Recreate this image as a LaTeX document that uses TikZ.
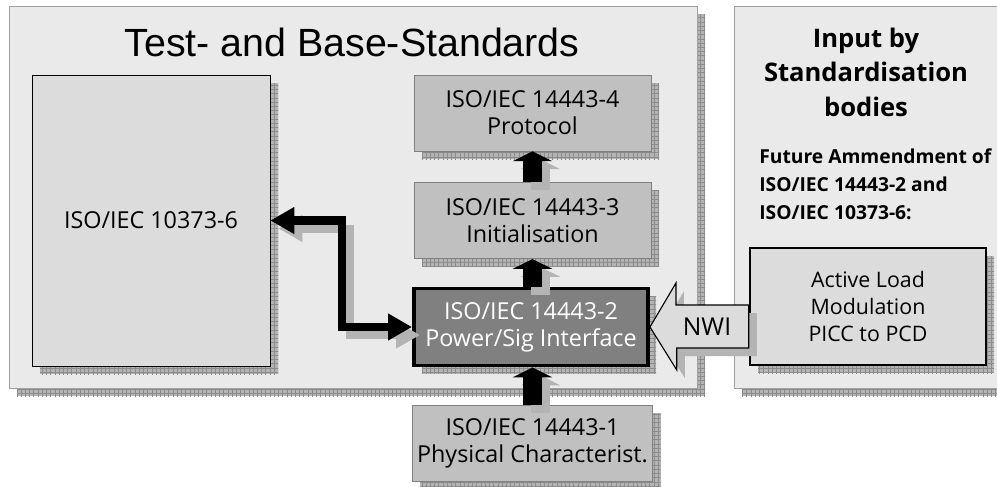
\documentclass[tikz,border=0pt]{standalone}
\usepackage{fontspec}
\setmainfont{Open Sans}
\newfontfamily\titlefont{Liberation Sans}
\usetikzlibrary{positioning,shadows,arrows.meta,patterns}
\definecolor{panelgray}{HTML}{EAEAEA}
\definecolor{edgegray}{HTML}{A0A0A0}
\definecolor{boxgray}{HTML}{C0C0C0}
\definecolor{lightbox}{HTML}{DCDCDC}
\definecolor{darkbox}{HTML}{808080}
\definecolor{shadowgray}{HTML}{B4B4B4}
\definecolor{gridgray}{HTML}{8C8C8C}
\newcommand{\pu}{0.025cm}
\tikzset{gridshadow/.style={general shadow={shadow xshift=5.7pt,shadow yshift=-5.7pt,
        fill=shadowgray,draw=none,postaction={pattern=grid,pattern color=gridgray}}},
    panel/.style={draw=edgegray,fill=panelgray,line width=0.7pt,gridshadow},
    stdbox/.style={draw=darkbox,fill=boxgray,line width=0.5pt,gridshadow,align=center,
        font=\fontsize{16.6}{19}\selectfont,minimum width=237*\pu,minimum height=76*\pu},
    keybox/.style={stdbox,draw=black,fill=darkbox,text=white,line width=2.8pt},
    inputbox/.style={stdbox,draw=black,fill=lightbox,line width=1.8pt,font=\fontsize{15.2}{19.5}\selectfont},
    thinshadow/.style={preaction={draw=shadowgray,line width=#1,transform canvas={shift={(5.7pt,-5.7pt)}}}},
    uparrow/.style={line width=14pt,-{Triangle[width=28pt,length=7pt]},thinshadow=14pt},
    linkarrow/.style={line width=5.7pt,{Triangle[width=18pt,length=17pt]}-{Triangle[width=18pt,length=17pt]},thinshadow=5.7pt},
    nwiarrow/.style={draw=black,fill=lightbox,line width=0.8pt,line join=miter,
        preaction={fill=shadowgray,transform canvas={shift={(5.7pt,-5.7pt)}}}}
}
\begin{document}
\begin{tikzpicture}[x=\pu,y=-\pu]
\useasboundingbox (0,0) rectangle (997,486);

% the two panels
\node (basepanel) [panel,minimum width=688*\pu,minimum height=382*\pu] at (353,197) {};
\node (inputpanel) [panel,minimum width=272*\pu,minimum height=382*\pu] at (870,197) {};

\node (basetitle) at (352,42) {\titlefont\fontsize{28}{33}\selectfont Test- and Base-Standards};
\node (inputtitle) [align=center,font=\bfseries\fontsize{18.2}{24.5}\selectfont] at (866,72)
    {Input by\\Standardisation\\bodies};
\node (inputnote) [align=left,anchor=west,inner sep=0,font=\bfseries\fontsize{13.7}{20}\selectfont] at (759,184)
    {Future Ammendment of\\ISO/IEC 14443-2 and\\ISO/IEC 10373-6:};

% standards
\node (iso10) [stdbox,draw=black,fill=lightbox,minimum width=238*\pu,minimum height=291*\pu] at (151,220.5) {ISO/IEC 10373-6};
\node (iso4) [stdbox] at (532.5,113) {ISO/IEC 14443-4\\Protocol};
\node (iso3) [stdbox,below=31*\pu of iso4] {ISO/IEC 14443-3\\Initialisation};
\node (iso2) [keybox,minimum width=234*\pu,minimum height=77*\pu] at (531,327) {ISO/IEC 14443-2\\Power/Sig Interface};
\node (iso1) [stdbox] at (532.5,443) {ISO/IEC 14443-1\\Physical Characterist.};
\node (alm) [inputbox,minimum width=236*\pu,minimum height=117*\pu] at (868,306.5) {Active Load\\Modulation\\PICC to PCD};

% connections
\draw [nwiarrow] (iso2.east) -- ++(26,-44) -- ++(0,22) -- (alm.west |- 0,305)
    -- (alm.west |- 0,348) -- ++(-72,0) -- ++(0,22) -- cycle;
\node (nwi) [font=\fontsize{17.5}{20}\selectfont] at (707,327) {NWI};
\draw [uparrow] (iso3.north) -- (iso4.south);
\draw [uparrow] (iso3.south |- iso2.north) -- (iso3.south);
\draw [uparrow] (iso1.north) -- (iso1.north |- iso2.south);
\draw [linkarrow] (iso10.east) -- ++(72,0) |- (iso2.west);

\end{tikzpicture}
\end{document}
